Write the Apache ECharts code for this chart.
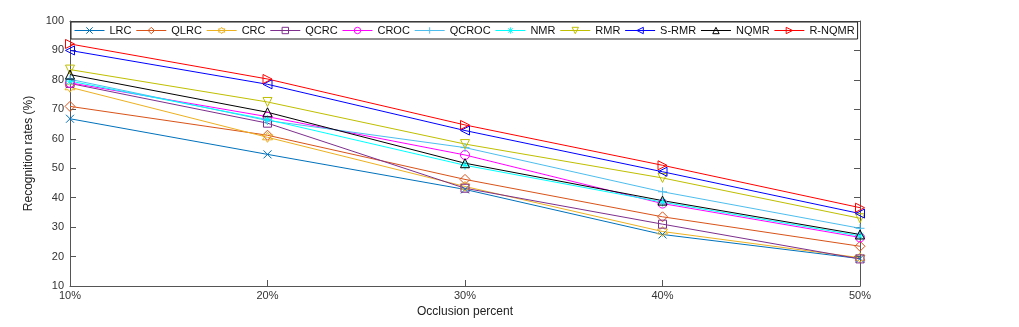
<!DOCTYPE html>
<html><head><meta charset="utf-8">
<script src="https://cdn.jsdelivr.net/npm/echarts@6/dist/echarts.min.js"></script>
<style>html,body{margin:0;padding:0;background:#fff}#c{width:1019px;height:327px}</style>
</head><body><div id="c"></div>
<script>
const categories = ['10%','20%','30%','40%','50%'];
const seriesNames = ['LRC','QLRC','CRC','QCRC','CROC','QCROC','NMR','RMR','S-RMR','NQMR','R-NQMR'];
const LRC    = [66.8, 54.7, 42.8, 27.5, 19.3];
const QLRC   = [71.0, 61.2, 46.2, 33.5, 23.5];
const CRC    = [77.5, 60.5, 43.8, 28.5, 19.6];
const QCRC   = [78.8, 65.3, 43.2, 31.0, 19.2];
const CROC   = [79.0, 67.5, 54.5, 38.0, 26.5];
const QCROC  = [80.2, 66.2, 57.0, 42.0, 29.6];
const NMR    = [79.6, 66.5, 51.0, 38.5, 27.0];
const RMR    = [83.5, 72.5, 58.2, 46.7, 33.0];
const S_RMR  = [90.0, 78.5, 62.8, 48.8, 34.6];
const NQMR   = [81.8, 69.0, 51.7, 39.0, 27.5];
const R_NQMR = [92.2, 80.3, 64.7, 51.0, 36.6];
const yTicks = [10,20,30,40,50,60,70,80,90,100];

const values = [LRC,QLRC,CRC,QCRC,CROC,QCROC,NMR,RMR,S_RMR,NQMR,R_NQMR];
const colors = ['#0072BD','#D95319','#EDB120','#7E2F8E','#FF00FF','#4DBEEE','#00FFFF','#BFBF00','#0000FF','#000000','#FF0000'];
const symbols = [
  'path://M0,0L10,10M10,0L0,10',
  'diamond',
  'path://M10,0L12.89,5L18.66,5L15.77,10L18.66,15L12.89,15L10,20L7.11,15L1.34,15L4.23,10L1.34,5L7.11,5Z',
  'rect',
  'circle',
  'path://M5,0L5,10M0,5L10,5',
  'path://M5,0L5,10M0,5L10,5M1.5,1.5L8.5,8.5M8.5,1.5L1.5,8.5',
  'path://M0,0L10,0L5,8.66Z',
  'path://M0,5L8.66,0L8.66,10Z',
  'path://M5,0L10,8.66L0,8.66Z',
  'path://M0,0L8.66,5L0,10Z'
];
const sizes = [8,10,10,8,9,9,9,9,9,9,9];

const axisColor = '#555';
const font = '"Liberation Sans", Arial, sans-serif';
const chart = echarts.init(document.getElementById('c'));
chart.setOption({
  animation:false,
  backgroundColor:'#fff',
  grid:{left:70,right:159,top:21,bottom:41},
  legend:{
    top:22, left:71, width:820,
    itemWidth:30, itemHeight:8, itemGap:4.3,
    padding:[3,3,3,3],
    borderColor:'#222', borderWidth:1,
    backgroundColor:'#fff',
    itemStyle:{color:'rgba(255,255,255,0)',borderWidth:1},
    lineStyle:{width:1},
    textStyle:{fontFamily:font,fontSize:11,color:'#111'},
    data: seriesNames
  },
  xAxis:[{
    type:'category', data:categories, boundaryGap:false,
    name:'Occlusion percent', nameLocation:'middle', nameGap:19,
    nameTextStyle:{fontFamily:font,fontSize:12,color:'#222'},
    axisLine:{lineStyle:{color:axisColor,width:1}},
    axisTick:{inside:true,length:6,lineStyle:{color:axisColor}},
    axisLabel:{fontFamily:font,fontSize:11,color:'#333',margin:4},
    splitLine:{show:false}
  },{
    type:'category', data:categories, boundaryGap:false, position:'top',
    axisLine:{lineStyle:{color:axisColor,width:1}},
    axisTick:{inside:true,length:6,lineStyle:{color:axisColor}},
    axisLabel:{show:false}
  }],
  yAxis:[{
    type:'value', min:10, max:100, interval:10,
    name:'Recognition rates (%)', nameLocation:'middle', nameGap:26,
    nameTextStyle:{fontFamily:font,fontSize:12,color:'#222'},
    axisLine:{show:true,lineStyle:{color:axisColor,width:1}},
    axisTick:{show:true,inside:true,length:6,lineStyle:{color:axisColor}},
    axisLabel:{fontFamily:font,fontSize:11,color:'#333',margin:6},
    splitLine:{show:false}
  },{
    type:'value', min:10, max:100, interval:10, position:'right',
    axisLine:{show:true,lineStyle:{color:axisColor,width:1}},
    axisTick:{show:true,inside:true,length:6,lineStyle:{color:axisColor}},
    axisLabel:{show:false}, splitLine:{show:false}
  }],
  series: seriesNames.map((n,i)=>({
    name:n, type:'line', data:values[i],
    xAxisIndex:0, yAxisIndex:0,
    symbol:symbols[i], symbolSize:sizes[i], showAllSymbol:true,
    lineStyle:{color:colors[i],width:1},
    itemStyle:{color:'rgba(255,255,255,0)',borderColor:colors[i],borderWidth:1},
    emphasis:{disabled:true}
  }))
});
</script></body></html>
